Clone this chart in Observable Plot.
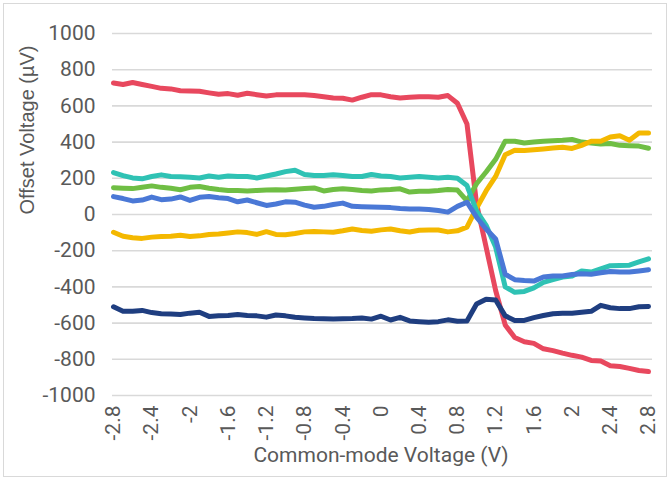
<!DOCTYPE html>
<html>
<head>
<meta charset="utf-8">
<script src="https://cdn.jsdelivr.net/npm/d3@7"></script>
<script src="https://cdn.jsdelivr.net/npm/@observablehq/plot@0.6"></script>
<style>
  html, body { margin: 0; padding: 0; background: #fff; }
  #wrap { position: relative; width: 671px; height: 480px; }
  #border { position: absolute; left: 3px; top: 3px; width: 662px; height: 472px; border: 1.5px solid #d9d9d9; pointer-events: none; }
</style>
</head>
<body>
<div id="wrap"><div id="border"></div></div>
<script>
// Common-mode voltage (V)
const xValues = [-2.8, -2.7, -2.6, -2.5, -2.4, -2.3, -2.2, -2.1, -2.0, -1.9,
  -1.8, -1.7, -1.6, -1.5, -1.4, -1.3, -1.2, -1.1, -1.0, -0.9,
  -0.8, -0.7, -0.6, -0.5, -0.4, -0.3, -0.2, -0.1, 0.0, 0.1,
  0.2, 0.3, 0.4, 0.5, 0.6, 0.7, 0.8, 0.9, 1.0, 1.1,
  1.2, 1.3, 1.4, 1.5, 1.6, 1.7, 1.8, 1.9, 2.0, 2.1,
  2.2, 2.3, 2.4, 2.5, 2.6, 2.7, 2.8];

// Offset voltage (µV) per series
const seriesA = [727, 718, 729, 718, 708, 697, 694, 684, 683, 681,
  672, 664, 668, 659, 670, 662, 655, 661, 662, 662,
  661, 657, 651, 644, 642, 632, 648, 662, 661, 651,
  644, 648, 651, 650, 648, 657, 615, 500, 60, -180,
  -420, -610, -680, -703, -712, -742, -752, -766, -778, -788,
  -806, -810, -836, -840, -850, -862, -868];
const seriesB = [148, 145, 143, 150, 158, 150, 145, 137, 150, 155,
  145, 138, 133, 132, 130, 133, 135, 137, 136, 140,
  143, 147, 130, 138, 142, 138, 132, 130, 136, 138,
  142, 124, 128, 128, 132, 138, 135, 75, 170, 235,
  305, 405, 405, 395, 400, 405, 408, 410, 415, 400,
  395, 390, 392, 382, 380, 378, 366];
const seriesC = [-98, -120, -128, -132, -125, -122, -120, -115, -122, -118,
  -110, -108, -102, -96, -100, -110, -95, -110, -112, -105,
  -96, -94, -96, -98, -90, -80, -88, -93, -85, -80,
  -90, -97, -87, -85, -86, -96, -90, -70, 35, 130,
  210, 330, 355, 353, 358, 362, 367, 372, 365, 382,
  405, 405, 428, 435, 410, 450, 450];
const seriesD = [232, 215, 202, 197, 210, 219, 210, 208, 206, 202,
  213, 206, 213, 210, 210, 202, 213, 224, 237, 245,
  221, 215, 215, 219, 215, 210, 210, 221, 213, 210,
  202, 206, 210, 206, 202, 206, 200, 160, 20, -60,
  -180, -400, -430, -425, -405, -375, -360, -346, -340, -312,
  -318, -300, -283, -282, -280, -262, -245];
const seriesE = [99, 88, 75, 80, 96, 82, 85, 97, 78, 95,
  99, 92, 88, 70, 80, 65, 50, 58, 70, 68,
  52, 40, 45, 55, 63, 45, 43, 42, 40, 38,
  33, 31, 30, 28, 22, 13, 45, 68, -15, -80,
  -135, -330, -360, -365, -368, -345, -340, -340, -332, -327,
  -330, -322, -315, -318, -318, -312, -305];
const seriesF = [-510, -535, -535, -530, -542, -548, -550, -552, -545, -540,
  -563, -560, -558, -552, -558, -560, -567, -555, -560, -568,
  -572, -575, -576, -577, -576, -575, -572, -578, -562, -583,
  -568, -588, -592, -595, -592, -582, -590, -588, -495, -468,
  -472, -560, -585, -585, -570, -558, -548, -545, -545, -540,
  -535, -502, -515, -520, -520, -510, -508];

const seriesNames = ["Series A", "Series B", "Series C", "Series D", "Series E", "Series F"];
const seriesValues = [seriesA, seriesB, seriesC, seriesD, seriesE, seriesF];
const seriesColors = ["#e8485e", "#6fbe44", "#f4b800", "#2fc2b4", "#4a78d6", "#1f3e80"];

const xTicks = [-2.8, -2.4, -2.0, -1.6, -1.2, -0.8, -0.4, 0, 0.4, 0.8, 1.2, 1.6, 2.0, 2.4, 2.8];
const yTicks = [-1000, -800, -600, -400, -200, 0, 200, 400, 600, 800, 1000];
const xTitle = "Common-mode Voltage (V)";
const yTitle = "Offset Voltage (µV)";

const data = seriesNames.flatMap((name, s) =>
  seriesValues[s].map((v, i) => ({series: name, x: xValues[i], y: v})));

const chart = Plot.plot({
  width: 671,
  height: 480,
  marginTop: 33,
  marginBottom: 85,
  marginLeft: 113,
  marginRight: 23,
  style: {fontFamily: "Roboto, 'DejaVu Sans', sans-serif", fontSize: "21px", color: "#595959", background: "transparent"},
  x: {domain: [-2.8, 2.8], ticks: xTicks, tickFormat: d => String(+d.toFixed(1)), tickRotate: -90, tickSize: 0, tickPadding: 10, label: null},
  y: {domain: [-1000, 1000], ticks: yTicks, tickFormat: d => String(d), tickSize: 0, tickPadding: 18, label: null},
  color: {type: "ordinal", domain: seriesNames, range: seriesColors},
  marks: [
    Plot.ruleY(yTicks, {stroke: "#d9d9d9", strokeWidth: 1.6, insetLeft: -1, insetRight: -4}),
    Plot.lineY(data, {x: "x", y: "y", z: "series", stroke: "series", strokeWidth: 5, strokeLinejoin: "round", strokeLinecap: "round"}),
    Plot.text([yTitle], {text: d => d, frameAnchor: "left", dx: -86, rotate: -90, fontFamily: "'Liberation Sans', Arial, sans-serif", fontSize: 20, fill: "#595959"}),
    Plot.text([xTitle], {text: d => d, frameAnchor: "bottom", dy: 66, fontSize: 21, fill: "#595959"})
  ]
});
document.getElementById("wrap").prepend(chart);
</script>
</body>
</html>
